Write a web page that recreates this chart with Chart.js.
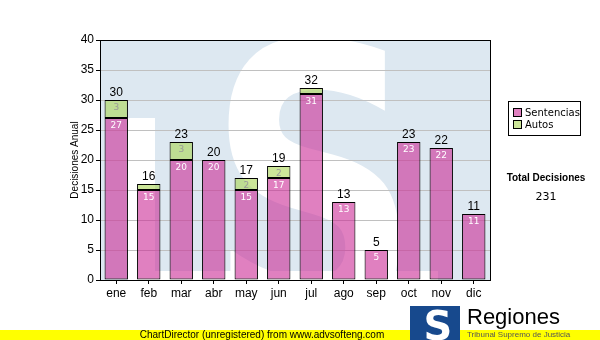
<!DOCTYPE html>
<html>
<head>
<meta charset="utf-8">
<script src="https://cdn.jsdelivr.net/npm/chart.js@4"></script>
<style>
  html, body { margin: 0; padding: 0; background: #ffffff; }
  #wrap { width: 600px; height: 340px; position: relative; }
</style>
</head>
<body>
<div id="wrap"><canvas id="myChart" width="600" height="340"></canvas></div>
<script>
// data
const meses = ["ene", "feb", "mar", "abr", "may", "jun", "jul", "ago", "sep", "oct", "nov", "dic"];
const sentencias = [27, 15, 20, 20, 15, 17, 31, 13, 5, 23, 22, 11];
const autos = [3, 1, 3, 0, 2, 2, 1, 0, 0, 0, 0, 0];
const yTicks = [0, 5, 10, 15, 20, 25, 30, 35, 40];
const serieNombres = ["Sentencias", "Autos"];
const totalTitulo = "Total Decisiones";

const totales = meses.map((m, i) => sentencias[i] + autos[i]);
const totalGeneral = totales.reduce((a, b) => a + b, 0);

// background, watermark, border, labels, legend, footer
const extras = {
  id: "extras",
  beforeDraw(chart) {
    const ctx = chart.ctx;
    const a = chart.chartArea;
    ctx.save();
    ctx.fillStyle = "#ffffff";
    ctx.fillRect(0, 0, chart.width, chart.height);
    ctx.fillStyle = "#dde8f1";
    ctx.fillRect(a.left, a.top, a.right - a.left, a.bottom - a.top);
    ctx.beginPath();
    ctx.rect(a.left, a.top, a.right - a.left, a.bottom - a.top);
    ctx.clip();
    // watermark logo: white strip + big S
    ctx.fillStyle = "#ffffff";
    ctx.fillRect(128, 118, 27, 162);
    ctx.fillRect(128, 271, 310, 9);
    ctx.save();
    ctx.translate(314, 326);
    ctx.scale(0.76, 1);
    ctx.font = "bold 390px 'DejaVu Sans'";
    ctx.textAlign = "center";
    ctx.textBaseline = "alphabetic";
    ctx.fillText("S", 0, 0);
    ctx.restore();
    ctx.restore();
  },
  afterDatasetsDraw(chart) {
    const ctx = chart.ctx;
    const a = chart.chartArea;
    ctx.save();
    ctx.strokeStyle = "#000000";
    ctx.lineWidth = 1;
    ctx.strokeRect(Math.round(a.left) + 0.5, Math.round(a.top) + 0.5, Math.round(a.right - a.left), Math.round(a.bottom - a.top));

    const m0 = chart.getDatasetMeta(0).data;
    const m1 = chart.getDatasetMeta(1).data;
    ctx.textAlign = "center";
    ctx.textBaseline = "top";
    ctx.font = "9px 'DejaVu Sans'";
    m0.forEach((bar, i) => {
      if (sentencias[i] > 0) {
        ctx.fillStyle = "#ffffff";
        ctx.fillText(String(sentencias[i]), bar.x, bar.y + 3);
      }
    });
    m1.forEach((bar, i) => {
      if (autos[i] > 1) {
        ctx.fillStyle = "#999999";
        ctx.fillText(String(autos[i]), bar.x, bar.y + 3);
      }
    });
    ctx.textBaseline = "bottom";
    ctx.font = "12px 'Liberation Sans'";
    ctx.fillStyle = "#000000";
    m1.forEach((bar, i) => {
      const top = chart.scales.y.getPixelForValue(totales[i]);
      ctx.fillText(String(totales[i]), bar.x, top - 1);
    });

    // y title
    ctx.save();
    ctx.translate(75, 160);
    ctx.rotate(-Math.PI / 2);
    ctx.textAlign = "center";
    ctx.textBaseline = "middle";
    ctx.font = "10px 'Liberation Sans'";
    ctx.fillText("Decisiones Anual", 0, 0);
    ctx.restore();

    // legend
    ctx.fillStyle = "#ffffff";
    ctx.fillRect(508.5, 101.5, 72, 34);
    ctx.strokeStyle = "#000000";
    ctx.strokeRect(508.5, 101.5, 72, 34);
    const legCol = ["#e080c0", "#cce699"];
    ctx.font = "10px 'DejaVu Sans'";
    ctx.textAlign = "left";
    ctx.textBaseline = "middle";
    serieNombres.forEach((n, i) => {
      const yy = 113 + i * 12;
      ctx.fillStyle = legCol[i];
      ctx.fillRect(513.5, yy - 4.5, 8, 8);
      ctx.strokeRect(513.5, yy - 4.5, 8, 8);
      ctx.fillStyle = "#000000";
      ctx.fillText(n, 525, yy);
    });

    // total
    ctx.textAlign = "center";
    ctx.font = "bold 10px 'Liberation Sans'";
    ctx.fillText(totalTitulo, 546, 178);
    ctx.font = "11px 'DejaVu Sans'";
    ctx.fillText(String(totalGeneral), 546, 197);

    // footer bar
    ctx.fillStyle = "#ffff00";
    ctx.fillRect(0, 330, 600, 10);
    ctx.fillStyle = "#000000";
    ctx.font = "10px 'Liberation Sans Narrow', 'Liberation Sans'";
    ctx.textBaseline = "middle";
    ctx.fillText("ChartDirector (unregistered) from www.advsofteng.com", 262, 335);

    // logo
    ctx.fillStyle = "#17498d";
    ctx.fillRect(410, 306, 50, 34);
    ctx.fillStyle = "#ffffff";
    ctx.font = "bold 40px 'DejaVu Sans'";
    ctx.textBaseline = "alphabetic";
    ctx.fillText("S", 438, 340);
    ctx.fillStyle = "#000000";
    ctx.textAlign = "left";
    ctx.font = "22px 'Liberation Sans'";
    ctx.fillText("Regiones", 467, 324);
    ctx.font = "8px 'Liberation Sans'";
    ctx.fillStyle = "#555555";
    ctx.fillText("Tribunal Supremo de Justicia", 467, 337);
    ctx.restore();
  }
};

const ctx = document.getElementById("myChart");
const myChart = new Chart(ctx, {
  type: "bar",
  data: {
    labels: meses,
    datasets: [{
      label: serieNombres[0],
      data: sentencias,
      backgroundColor: "rgba(203,43,150,0.6)",
      borderColor: "#000000",
      borderWidth: 1,
      borderSkipped: false
    }, {
      label: serieNombres[1],
      data: autos,
      backgroundColor: "rgba(170,213,85,0.6)",
      borderColor: "#000000",
      borderWidth: 1,
      borderSkipped: false
    }]
  },
  options: {
    responsive: false,
    animation: false,
    events: [],
    layout: { padding: { left: 0, right: 110, top: 40, bottom: 40 } },
    datasets: { bar: { barPercentage: 0.72, categoryPercentage: 1 } },
    plugins: { legend: { display: false }, tooltip: { enabled: false } },
    scales: {
      x: {
        stacked: true,
        grid: { display: true, drawOnChartArea: false, tickLength: 4, color: "#000000", offset: false },
        border: { color: "#000000" },
        ticks: { color: "#000000", font: { family: "Liberation Sans", size: 12 }, padding: 2 },
        afterFit(s) { s.height = 20; }
      },
      y: {
        stacked: true,
        min: 0,
        max: 40,
        afterBuildTicks(s) { s.ticks = yTicks.map(v => ({ value: v })); },
        grid: { color: "#c0c0c0", tickColor: "#000000", tickLength: 4 },
        border: { color: "#000000" },
        ticks: { color: "#000000", font: { family: "Liberation Sans", size: 12 }, padding: 2 },
        afterFit(s) { s.width = 100; }
      }
    }
  },
  plugins: [extras]
});
</script>
</body>
</html>
